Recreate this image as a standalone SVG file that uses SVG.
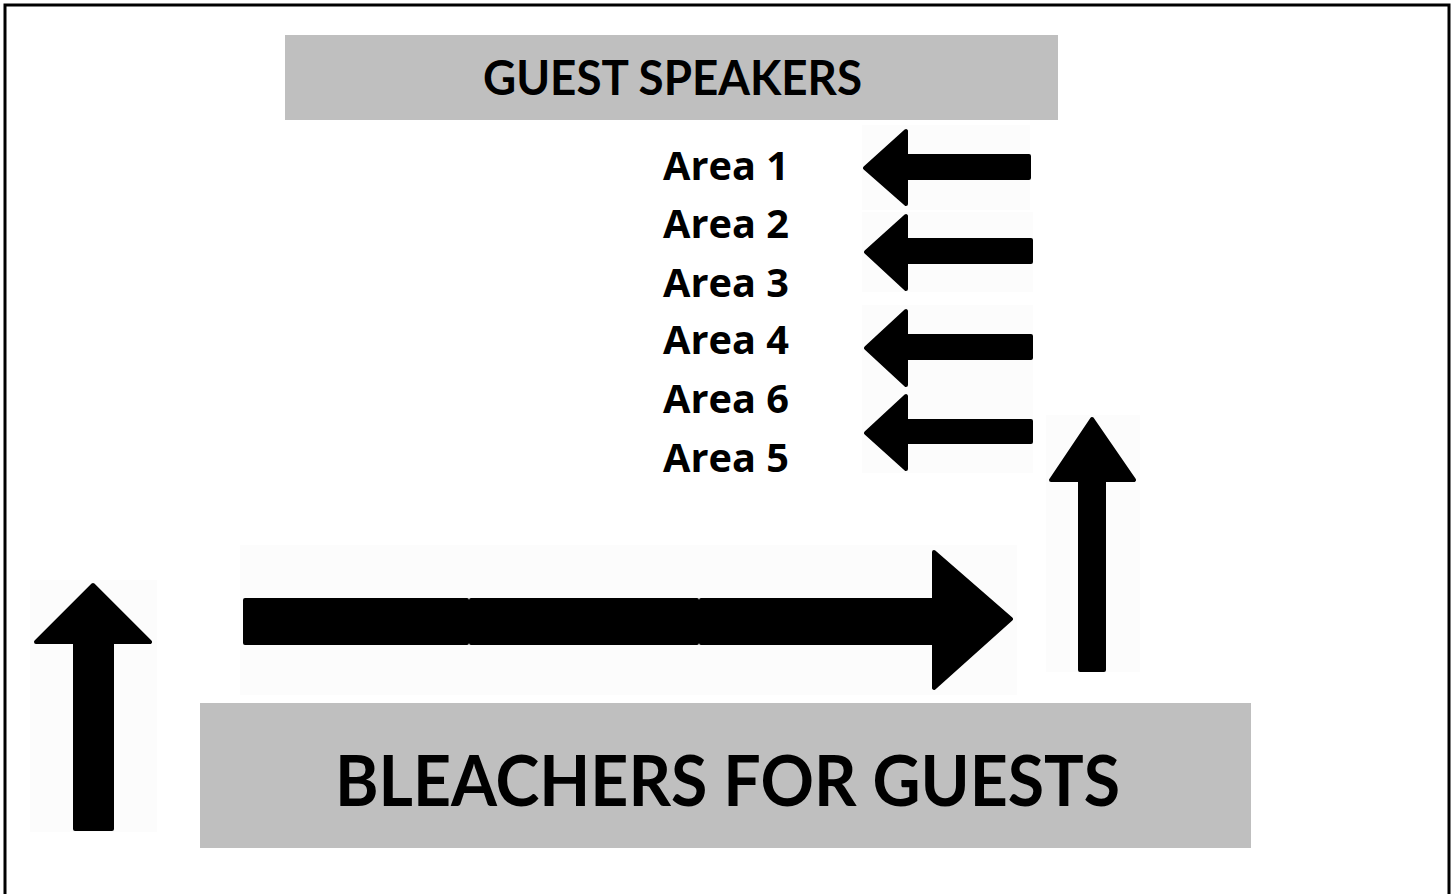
<svg xmlns="http://www.w3.org/2000/svg" width="1453" height="894" viewBox="0 0 1453 894">
<style>
.box{fill:#BFBFBF}
.bg{fill:#FCFCFC}
.arr{fill:#000;stroke:#000;stroke-width:4;stroke-linejoin:round}
.t{font-family:Lato,"Open Sans","Liberation Sans",sans-serif;font-weight:bold;fill:#000}
.area{font-family:"Open Sans",Lato,"Liberation Sans",sans-serif;font-weight:bold;font-size:39px;fill:#000}
</style>
<rect x="0" y="0" width="1453" height="894" fill="#fff"/>
<path d="M5 900 V5 H1449 V900" fill="none" stroke="#000" stroke-width="3"/>

<g id="guest-speakers">
<rect class="box" x="285" y="35" width="773" height="85"/>
<text class="t" x="483" y="95" font-size="47" textLength="379" lengthAdjust="spacingAndGlyphs">GUEST SPEAKERS</text>
</g>

<g id="bleachers">
<rect class="box" x="200" y="703" width="1051" height="145"/>
<text class="t" x="335" y="806" font-size="71" textLength="785" lengthAdjust="spacingAndGlyphs">BLEACHERS FOR GUESTS</text>
</g>

<g id="areas">
<text class="area" x="663" y="180" textLength="126" lengthAdjust="spacingAndGlyphs">Area 1</text>
<text class="area" x="663" y="238" textLength="126" lengthAdjust="spacingAndGlyphs">Area 2</text>
<text class="area" x="663" y="297" textLength="126" lengthAdjust="spacingAndGlyphs">Area 3</text>
<text class="area" x="663" y="354" textLength="126" lengthAdjust="spacingAndGlyphs">Area 4</text>
<text class="area" x="663" y="413" textLength="126" lengthAdjust="spacingAndGlyphs">Area 6</text>
<text class="area" x="663" y="472" textLength="126" lengthAdjust="spacingAndGlyphs">Area 5</text>
</g>

<g id="connectors">
<g id="arrow-left-1">
<rect class="bg" x="862" y="125" width="168" height="85"/>
<path class="arr" d="M865 168 L906 131 V156 H1029 V178 H906 V204 Z"/>
</g>
<g id="arrow-left-2">
<rect class="bg" x="862" y="212" width="171" height="80"/>
<path class="arr" d="M866 252 L906 216 V240 H1031 V262 H906 V289 Z"/>
</g>
<g id="arrow-left-3">
<rect class="bg" x="862" y="305" width="171" height="85"/>
<path class="arr" d="M866 348 L906 311 V336 H1031 V358 H906 V385 Z"/>
</g>
<g id="arrow-left-4">
<rect class="bg" x="862" y="390" width="171" height="83"/>
<path class="arr" d="M866 433 L906 396 V421 H1031 V442 H906 V469 Z"/>
</g>
<g id="arrow-up-left">
<rect class="bg" x="30" y="580" width="127" height="252"/>
<path class="arr" d="M93 585 L150 642 H112 V829 H75 V642 H36 Z"/>
</g>
<g id="arrow-up-right">
<rect class="bg" x="1046" y="415" width="94" height="257"/>
<path class="arr" d="M1092 419 L1134 480 H1104 V670 H1080 V480 H1051 Z"/>
</g>
<g id="arrow-right-long">
<rect class="bg" x="240" y="545" width="777" height="150"/>
<path class="arr" d="M245 600 H467 V643 H245 Z"/>
<path class="arr" d="M471 600 H697 V643 H471 Z"/>
<path class="arr" d="M701 600 H934 V552 L1011 619 L934 688 V643 H701 Z"/>
</g>
</g>
</svg>
